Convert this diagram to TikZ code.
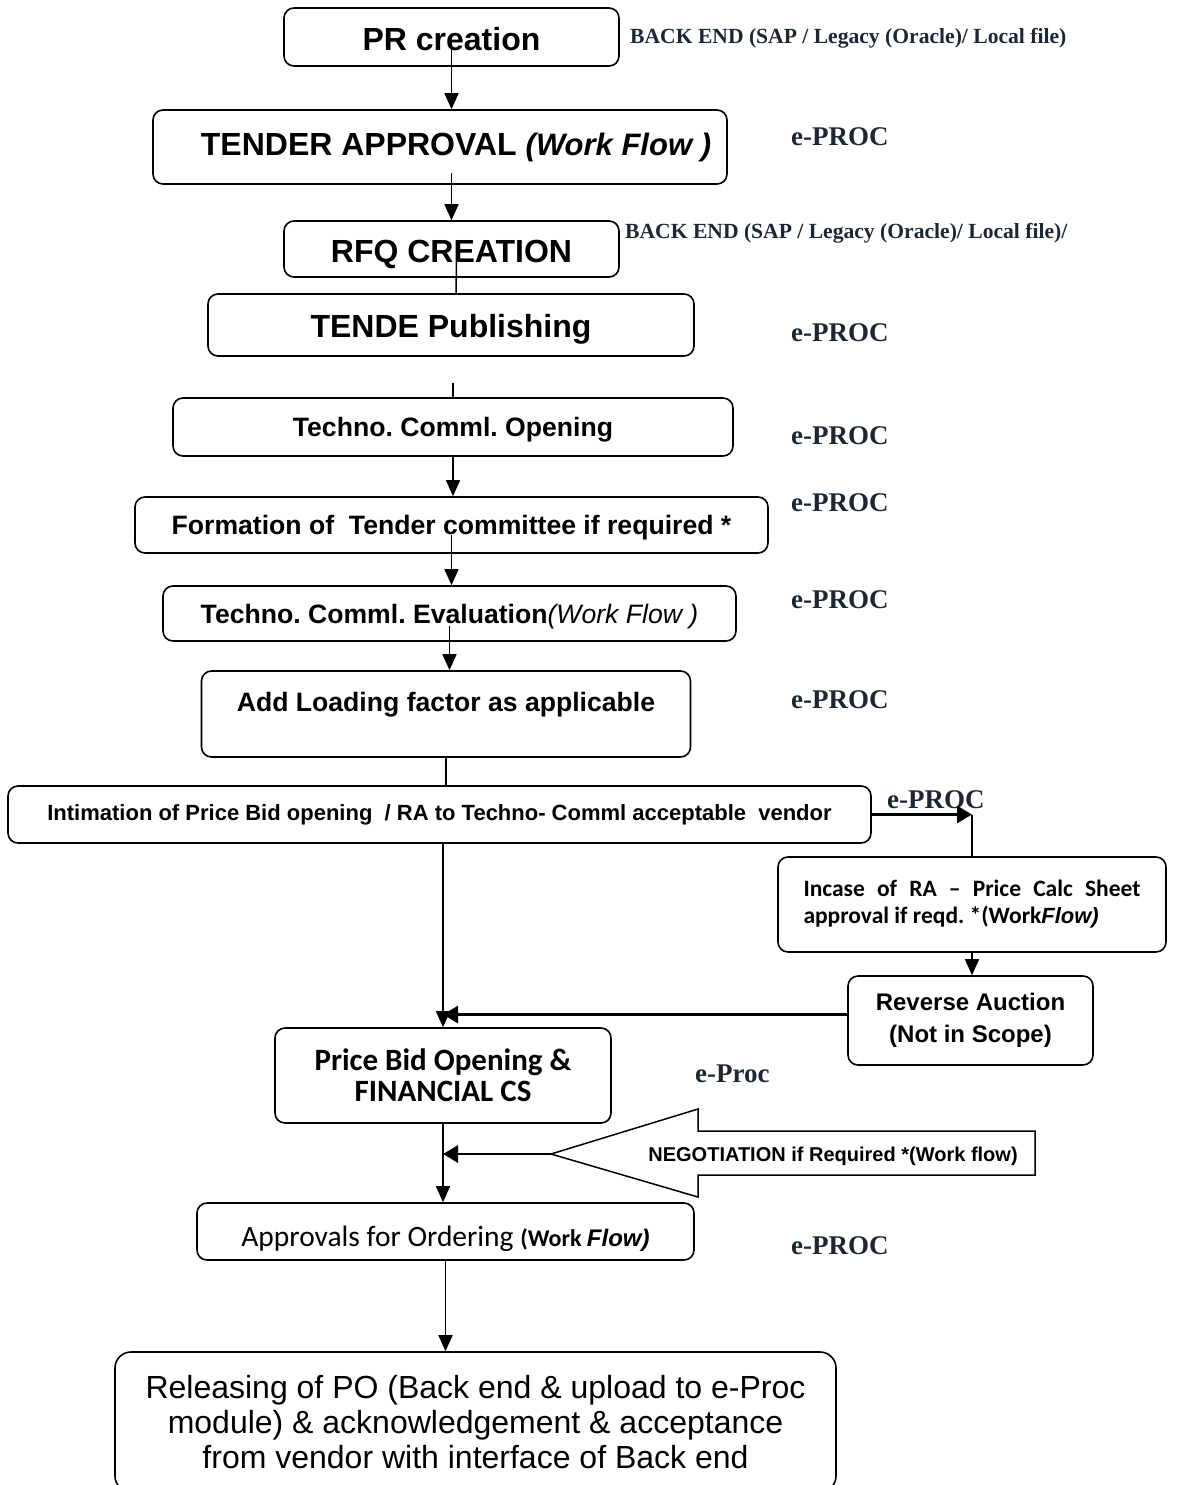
\documentclass[tikz,border=0pt]{standalone}
\usepackage{fontspec}
\setmainfont{Liberation Sans}
\newfontfamily\calf{Carlito}
\newfontfamily\camf{Liberation Serif}
\usetikzlibrary{arrows.meta}
\definecolor{procink}{HTML}{1C2735}
\frenchspacing
\tikzset{
  box/.style={draw,line width=1.6pt,rounded corners=10pt,inner sep=0pt,align=center},
  big/.style={font=\bfseries\fontsize{32}{36}\selectfont},
  lowtext/.style={text height=30pt,text depth=3pt},
  mid/.style={font=\bfseries\fontsize{26.6}{30}\selectfont,text height=24pt,text depth=5pt},
  arr/.style={line width=1.5pt,-{Triangle[length=16pt,width=14pt]}},
  bigarr/.style={line width=2.8pt,-{Triangle[length=15pt,width=17pt]}},
  link/.style={line width=1.5pt},
  proc/.style={font=\camf\bfseries\fontsize{27}{30}\selectfont,text=procink,anchor=west,inner sep=0pt},
  backend/.style={font=\camf\bfseries\fontsize{21.6}{24}\selectfont,text=procink,anchor=west,inner sep=0pt}
}
\begin{document}
\begin{tikzpicture}[x=1pt,y=-1pt]
\useasboundingbox (0,0) rectangle (1176,1485);
% steps
\node[box,big,lowtext,minimum width=335pt,minimum height=58pt] (pr) at (451.5,37) {PR creation};
\node[box,big,minimum width=574pt,minimum height=74pt] (tapp) at (440,147) {\hspace*{32pt}TENDER APPROVAL {\itshape\fontsize{31}{34}\selectfont(Work Flow )}};
\node[box,big,lowtext,minimum width=335pt,minimum height=56pt] (rfq) at (451.5,249) {RFQ CREATION};
\node[box,big,minimum width=486pt,minimum height=62pt,text height=28pt,text depth=4pt] (pub) at (451,325) {TENDE Publishing};
\node[box,mid,minimum width=560pt,minimum height=58pt] (topen) at (453,427) {Techno. Comml. Opening};
\node[box,mid,minimum width=633pt,minimum height=56pt] (tform) at (451.5,525) {Formation of\ \ Tender committee if required *};
\node[box,mid,minimum width=573pt,minimum height=55pt] (teval) at (449.5,613.5) {Techno. Comml. Evaluation{\mdseries\itshape(Work Flow )}};
\node[box,mid,minimum width=489pt,minimum height=86pt,text height=19pt,text depth=25pt] (loadf) at (446,714) {Add Loading factor as applicable};
\node[box,font=\bfseries\fontsize{22}{26}\selectfont,minimum width=863pt,minimum height=57pt] (intim) at (439.5,814.5) {Intimation of Price Bid opening\ \ / RA to Techno- Comml acceptable\ \ vendor};
\node[box,align=left,font=\calf\bfseries\fontsize{23.5}{27}\selectfont,minimum width=388pt,minimum height=95pt] (incase) at (972,904.5)
  {\makebox[337pt][s]{Incase of RA – Price Calc Sheet}\\approval if reqd. *(Work{\rmfamily\bfseries\itshape\fontsize{22}{27}\selectfont Flow)}};
\node[box,font=\bfseries\fontsize{24}{32}\selectfont,minimum width=245pt,minimum height=89pt] (rev) at (970.5,1020.5)
  {Reverse Auction\\(Not in Scope)};
\node[box,font=\calf\bfseries\fontsize{31}{31}\selectfont,minimum width=336pt,minimum height=95pt] (pbid) at (443,1075.5) {Price Bid Opening \&\\FINANCIAL CS};
\node[box,font=\calf\fontsize{29.5}{32}\selectfont,minimum width=497pt,minimum height=57pt,text height=29pt,text depth=0pt] (appr) at (445.5,1231.5)
  {Approvals for Ordering {\bfseries\fontsize{24}{28}\selectfont(Work {\rmfamily\itshape Flow)}}};
\node[box,font=\mdseries\fontsize{32}{35}\selectfont,rounded corners=16pt,minimum width=721pt,minimum height=140pt] (rel) at (475.5,1422)
  {Releasing of PO (Back end \& upload to e-Proc\\module) \& acknowledgement \& acceptance\\from vendor with interface of Back end};
% negotiation block arrow
\draw[line width=1.5pt] (551,1154) coordinate (negtip) -- (698,1109) -- (698,1131) -- (1035,1131) -- (1035,1175) -- (698,1175) -- (698,1197) -- cycle;
\node[font=\bfseries\fontsize{20}{24}\selectfont,inner sep=0pt] (neg) at (833,1156) {NEGOTIATION if Required *(Work flow)};
% side labels
\node[backend] (be1) at (630,38) {BACK END (SAP / Legacy (Oracle)/ Local file)};
\node[backend] (be2) at (625,233) {BACK END (SAP / Legacy (Oracle)/ Local file)/};
\foreach \n/\x/\y in {1/791/137,2/791/333,3/791/436,4/791/503,5/791/600,6/791/700,7/887/800,8/791/1246}{
  \node[proc] (ep\n) at (\x,\y) {e-PROC};}
\node[proc] (epr) at (695,1074) {e-Proc};
% connectors
\draw[arr] ([yshift=-8pt]pr.center) -- (pr.center |- tapp.north);
\draw[arr] (tapp.south -| rfq.north) ++(0,-12) -- (rfq.north);
\draw[link] ([shift={(5,13)}]rfq.center) -- ([xshift=5pt]pub.north);
\draw[link] ([yshift=14pt]topen.north) -- (topen.north);
\draw[arr] (topen.south) -- (topen.south |- tform.north);
\draw[arr] ([yshift=-10pt]tform.center) -- (tform.center |- teval.north);
\draw[arr] ([yshift=-12pt]teval.center) -- (teval.center |- loadf.north);
\draw[link] (loadf.south) -- (loadf.south |- intim.north);
\draw[arr] (intim.south -| pbid.north) -- (pbid.north);
\draw[bigarr] (intim.east) -- (intim.east -| incase.north) coordinate (rabend);
\draw[link] (rabend) -- (incase.north);
\draw[arr] (incase.south) -- (incase.south |- rev.north);
\draw[bigarr] ([yshift=6pt]rev.west) -- ([yshift=6pt]rev.west -| pbid.north);
\draw[arr] (pbid.south) -- (pbid.south |- appr.north);
\draw[bigarr] (negtip) -- (negtip -| pbid.south);
\draw[arr] (appr.south) -- (appr.south |- rel.north);
\end{tikzpicture}
\end{document}
